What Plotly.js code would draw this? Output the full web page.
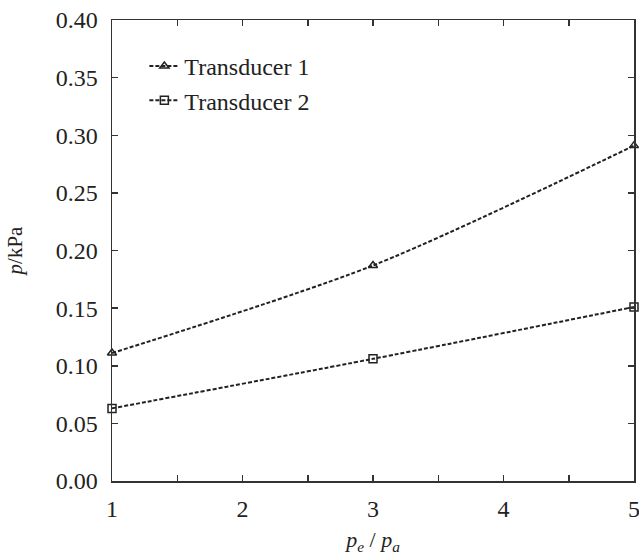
<!DOCTYPE html>
<html>
<head>
<meta charset="utf-8">
<script src="https://cdn.plot.ly/plotly-3.0.1.min.js"></script>
<style>body{margin:0;padding:0;background:#fff}#chart{width:639px;height:560px}</style>
</head>
<body>
<div id="chart"></div>
<script>
const ratios = [1, 3, 5];
const transducer1 = [0.111, 0.187, 0.291];
const transducer2 = [0.063, 0.106, 0.151];
const seriesNames = ["Transducer 1", "Transducer 2"];
const yTicks = [0, 0.05, 0.10, 0.15, 0.20, 0.25, 0.30, 0.35, 0.40];
const yTickText = ["0.00","0.05","0.10","0.15","0.20","0.25","0.30","0.35","0.40"];
const xTicks = [1, 2, 3, 4, 5];

const fam = "Liberation Serif";
const ink = "#222";
const lineStyle = {color: ink, width: 2, dash: "4px,2px", shape: "spline", smoothing: 0.8};

const traces = [
  {x: ratios, y: transducer1, name: seriesNames[0], type: "scatter", mode: "lines+markers", cliponaxis: false,
   line: lineStyle, marker: {symbol: "triangle-up-open", size: 8, color: ink, line: {width: 1.5, color: ink}}},
  {x: ratios, y: transducer2, name: seriesNames[1], type: "scatter", mode: "lines+markers", cliponaxis: false,
   line: lineStyle, marker: {symbol: "square-open", size: 8, color: ink, line: {width: 1.5, color: ink}}}
];

const layout = {
  width: 639, height: 560,
  margin: {l: 112, r: 5, t: 20, b: 79},
  paper_bgcolor: "#fff", plot_bgcolor: "#fff",
  font: {family: fam, size: 24, color: ink},
  showlegend: true,
  legend: {x: 0.062, y: 0.948, xanchor: "left", yanchor: "top", bgcolor: "rgba(0,0,0,0)",
           font: {family: fam, size: 24, color: ink}, itemwidth: 30, tracegroupgap: 12},
  xaxis: {
    range: [1, 5], tickvals: xTicks, ticktext: xTicks.map(String),
    showgrid: false, zeroline: false, showline: true, linecolor: "#333", linewidth: 1.5,
    mirror: "ticks", ticks: "inside", ticklen: 6, tickwidth: 1.5, tickcolor: "#333",
    minor: {dtick: 0.5, ticks: "inside", ticklen: 6, tickwidth: 1.5, tickcolor: "#333", showgrid: false},
    tickfont: {family: fam, size: 24, color: ink}, ticklabelstandoff: 6, ticklabeloverflow: "allow",
    title: {text: "<i>p</i><sub><i>e</i></sub> / <i>p</i><sub><i>a</i></sub>", standoff: 10,
            font: {family: fam, size: 22, color: ink}}
  },
  yaxis: {
    range: [0, 0.40], tickvals: yTicks, ticktext: yTickText,
    showgrid: false, zeroline: false, showline: true, linecolor: "#333", linewidth: 1.5,
    mirror: "ticks", ticks: "inside", ticklen: 6, tickwidth: 1.5, tickcolor: "#333",
    tickfont: {family: fam, size: 24, color: ink}, ticklabelstandoff: 8, ticklabeloverflow: "allow",
    title: {text: "<i>p</i>/kPa", standoff: 27, font: {family: fam, size: 21, color: ink}}
  }
};

Plotly.newPlot("chart", traces, layout, {displayModeBar: false, staticPlot: true});
</script>
</body>
</html>
